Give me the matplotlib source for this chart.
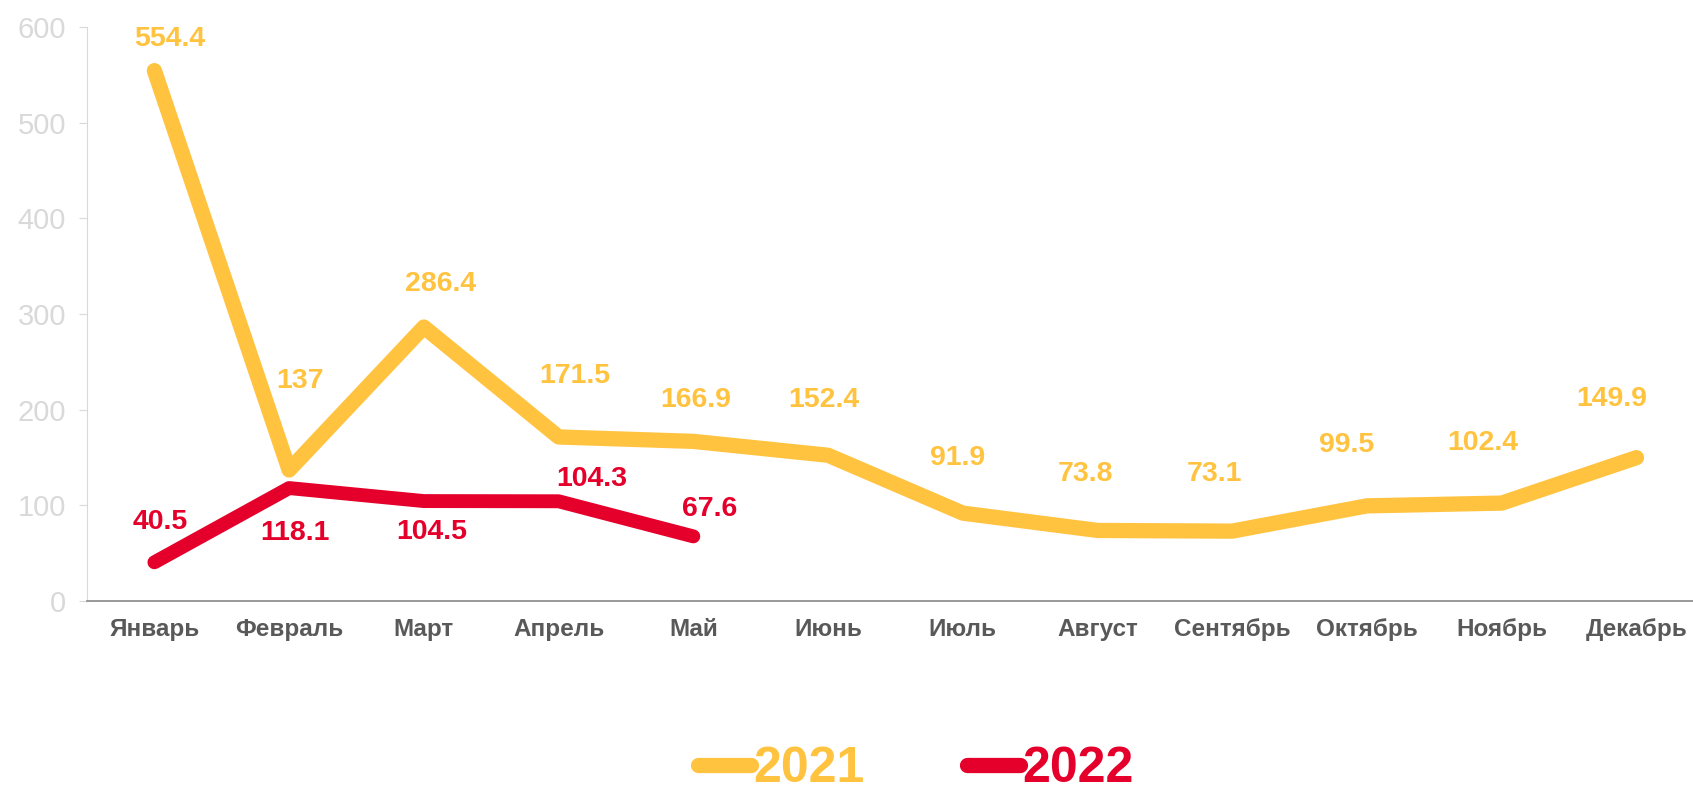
import matplotlib
matplotlib.use("Agg")
import matplotlib.pyplot as plt
from matplotlib.lines import Line2D

plt.rcParams["font.family"] = ["Liberation Sans", "DejaVu Sans"]

months = ["Январь", "Февраль", "Март", "Апрель", "Май", "Июнь",
          "Июль", "Август", "Сентябрь", "Октябрь", "Ноябрь", "Декабрь"]
values_2021 = [554.4, 137, 286.4, 171.5, 166.9, 152.4, 91.9, 73.8, 73.1, 99.5, 102.4, 149.9]
values_2022 = [40.5, 118.1, 104.5, 104.3, 67.6]
labels_2021 = ["554.4", "137", "286.4", "171.5", "166.9", "152.4",
               "91.9", "73.8", "73.1", "99.5", "102.4", "149.9"]
labels_2022 = ["40.5", "118.1", "104.5", "104.3", "67.6"]

yellow = "#FFC340"
red = "#E4002B"

# label offsets (points) – the original puts them a bit all over the place
off_2021 = [(11, 23), (8, 64), (12, 31), (12, 44), (2, 30), (-3, 40),
            (-4, 40), (-9, 41), (-13, 41), (-15, 44), (-14, 43), (-18, 42)]
off_2022 = [(4, 29), (4, -32), (6, -22), (24, 16), (12, 20)]

fig = plt.figure(figsize=(16.93, 7.94), dpi=100)
# plot area runs a little past the right edge of the picture, like the original
ax = fig.add_axes([0.0514, 0.243, 0.955, 0.723])

x21 = list(range(len(values_2021)))
x22 = list(range(len(values_2022)))
ax.plot(x21, values_2021, color=yellow, lw=11, solid_capstyle="round", solid_joinstyle="round")
ax.plot(x22, values_2022, color=red, lw=10, solid_capstyle="round", solid_joinstyle="round")

for xi, v, lab, off in zip(x21, values_2021, labels_2021, off_2021):
    ax.annotate(lab, (xi, v), xytext=off, textcoords="offset points",
                ha="center", va="center", color=yellow, fontsize=20.5, fontweight="bold")
for xi, v, lab, off in zip(x22, values_2022, labels_2022, off_2022):
    ax.annotate(lab, (xi, v), xytext=off, textcoords="offset points",
                ha="center", va="center", color=red, fontsize=20.5, fontweight="bold")

ax.set_xlim(-0.5, len(months) - 0.5)
ax.set_ylim(0, 600)
ax.set_yticks(range(0, 601, 100))
ax.set_xticks(x21)
ax.set_xticklabels(months, fontsize=17.5, fontweight="bold", color="#595959")
ax.tick_params(axis="x", length=0, pad=12)
ax.tick_params(axis="y", length=6, color="#d9d9d9", labelcolor="#d9d9d9", labelsize=21, pad=9)

for s in ["top", "right"]:
    ax.spines[s].set_visible(False)
ax.spines["left"].set_color("#d9d9d9")
ax.spines["bottom"].set_color("#888888")
ax.spines["bottom"].set_linewidth(1.2)

handles = [Line2D([], [], color=yellow, lw=11, solid_capstyle="round"),
           Line2D([], [], color=red, lw=11, solid_capstyle="round")]
leg = fig.legend(handles, ["2021", "2022"], loc="center", bbox_to_anchor=(0.541, 0.031),
                 ncol=2, frameon=False, handlelength=1.05, handletextpad=0.05,
                 columnspacing=2.05, prop={"size": 36, "weight": "bold"})
for t, c in zip(leg.get_texts(), [yellow, red]):
    t.set_color(c)

fig.savefig("out.png", dpi=100)
